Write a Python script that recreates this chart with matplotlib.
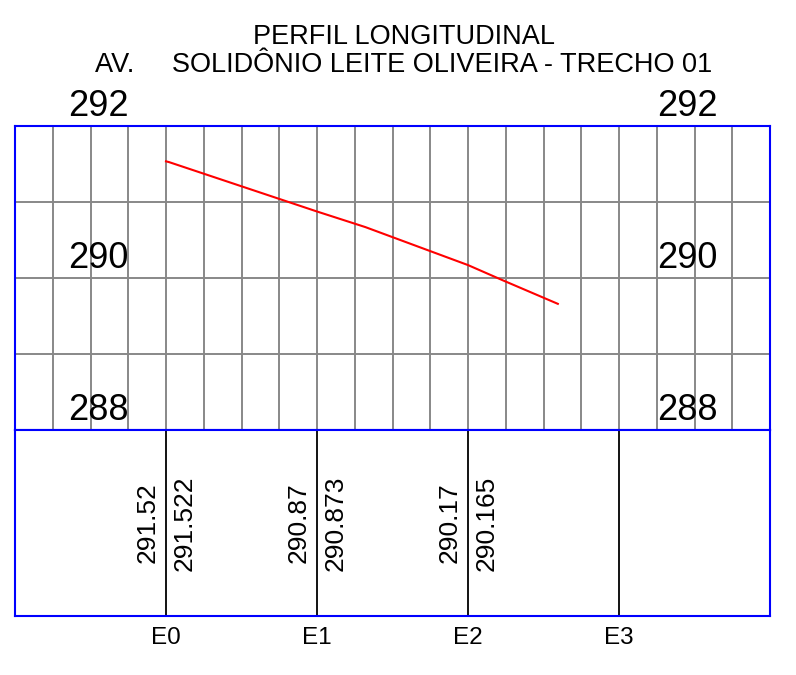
import matplotlib
matplotlib.use("Agg")
import matplotlib.pyplot as plt

plt.rcParams['font.family'] = ['Liberation Sans', 'DejaVu Sans']

# stations (m) and names
station_names = ["E0", "E1", "E2", "E3"]
station_pos = [0, 20, 40, 60]

# elevations written in the band
terrain_elev = [291.52, 290.87, 290.17]
grade_elev = [291.522, 290.873, 290.165]

# red profile
profile_dist = [0, 0.4, 20, 26.4, 40, 44.6, 51.9]
profile_elev = [291.535, 291.525, 290.875, 290.67, 290.17, 289.97, 289.66]

elev_labels = [292, 290, 288]

W, H = 796, 675
fig = plt.figure(figsize=(W / 100, H / 100), dpi=100)

blue = "#0000ff"
gray = "#888888"

# profile grid
ax = fig.add_axes([15 / W, (H - 430) / H, 755 / W, 304 / H])
ax.set_xlim(-20, 80)
ax.set_ylim(288, 292)
for x in range(-15, 80, 5):
    ax.axvline(x, color=gray, lw=1.4, zorder=1)
for y in [289, 290, 291]:
    ax.axhline(y, color=gray, lw=1.4, zorder=1)
ax.plot(profile_dist, profile_elev, color="#ff0000", lw=1.5, zorder=3)
for v in elev_labels:
    ax.text(-13, v + 0.13, str(v), fontsize=26, ha="left", va="baseline")
    ax.text(65, v + 0.13, str(v), fontsize=26, ha="left", va="baseline")
ax.set_xticks([])
ax.set_yticks([])
for s in ax.spines.values():
    s.set_color(blue)
    s.set_linewidth(1.5)
    s.set_zorder(4)

# band with elevations
bx = fig.add_axes([15 / W, (H - 616) / H, 755 / W, 186 / H])
bx.set_xlim(-20, 80)
bx.set_ylim(0, 1)
for x in station_pos:
    bx.axvline(x, color="black", lw=1.3)
for i in range(len(terrain_elev)):
    x = station_pos[i]
    bx.text(x - 2.4, 0.5, f"{terrain_elev[i]:.2f}", rotation=90,
            fontsize=19, ha="center", va="center")
    bx.text(x + 2.5, 0.5, f"{grade_elev[i]:.3f}", rotation=90,
            fontsize=19, ha="center", va="center")
for name, x in zip(station_names, station_pos):
    bx.text(x, -0.118, name, fontsize=17.5, ha="center", va="center")
bx.set_xticks([])
bx.set_yticks([])
for s in bx.spines.values():
    s.set_color(blue)
    s.set_linewidth(1.5)

fig.text(404 / W, 1 - 37 / H, "PERFIL LONGITUDINAL", fontsize=19.5,
         ha="center", va="center")
fig.text(404 / W, 1 - 65 / H, "AV.     SOLIDÔNIO LEITE OLIVEIRA - TRECHO 01",
         fontsize=19.5, ha="center", va="center")

fig.savefig("out.png", dpi=100, facecolor="white")
